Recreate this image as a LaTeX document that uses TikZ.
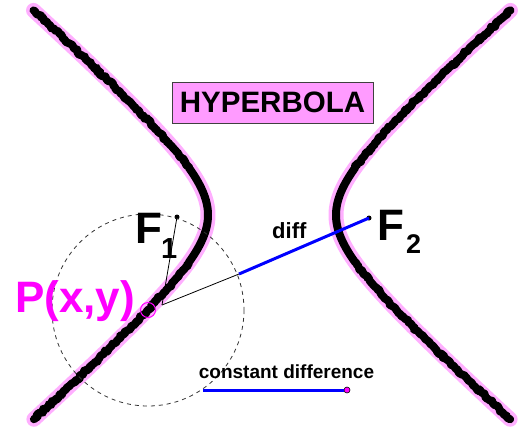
\documentclass[tikz,border=0pt]{standalone}
\usepackage{fontspec}
\setmainfont{Liberation Sans}
\usetikzlibrary{decorations.pathmorphing}
\definecolor{boxpink}{RGB}{255,155,255}
\definecolor{glow}{RGB}{255,175,255}
\definecolor{mag}{RGB}{255,0,255}
\definecolor{bl}{RGB}{0,0,255}
\tikzset{
  glowline/.style={glow,line width=15pt,line cap=round,line join=round},
  roughline/.style={black,line width=8pt,line cap=round,line join=round,
     decorate,decoration={random steps,segment length=2pt,amplitude=1.4pt}},
  focusdot/.style={circle,fill=black,inner sep=0pt,minimum size=5pt},
  thinline/.style={black,line width=0.8pt},
  blueseg/.style={bl,line width=3pt},
  lbl/.style={inner sep=0pt,font=\bfseries},
}
\pgfmathsetseed{7}
\begin{document}
\begin{tikzpicture}[x=1pt,y=-1pt]
\useasboundingbox (0,0) rectangle (524,429);
\clip (0,0) rectangle (524,429);
% hyperbola branches
\foreach \s in {-1,1}{
  \draw[glowline] plot[domain=-1.99:1.99,samples=120,variable=\t]
     ({272+\s*64*cosh(\t)},{215+57*sinh(\t)});
  \draw[roughline] plot[domain=-1.99:1.99,samples=120,variable=\t]
     ({272+\s*64*cosh(\t)},{215+57*sinh(\t)});
}
% title
\node[draw=black!75,fill=boxpink,line width=0.7pt,minimum width=201pt,minimum height=41pt,inner sep=0pt,
      font=\bfseries\fontsize{29.5}{31}\selectfont] (title) at (272.5,102.5) {HYPERBOLA};
% points
\coordinate (P) at (148,310);
\coordinate (Q) at (162,305);
\coordinate (C) at (239,274);
\node[focusdot] (F1) at (177,217) {};
\node[focusdot] (F2) at (369,218) {};
% dashed circle around P
\draw[black!80,line width=0.8pt,dash pattern=on 4pt off 4pt] (P) circle[radius=96];
\node[draw=mag,line width=1pt,circle,minimum size=15pt,inner sep=0pt] (Pc) at (P) {};
% connectors
\draw[thinline] (Q) -- (F1.center);
\draw[thinline] (Q) -- (C);
\draw[blueseg] (C) -- (F2.center);
% labels
\node[lbl,anchor=base west,font=\bfseries\fontsize{44}{46}\selectfont] (F1a) at (135,243) {F};
\node[lbl,anchor=base west,font=\bfseries\fontsize{29}{30}\selectfont] (F1b) at (161,258) {1};
\node[lbl,anchor=base west,font=\bfseries\fontsize{44}{46}\selectfont] (F2a) at (377,240) {F};
\node[lbl,anchor=base west,font=\bfseries\fontsize{27}{28}\selectfont] (F2b) at (406,253) {2};
\node[lbl,anchor=base west,text=mag,font=\bfseries\fontsize{44}{46}\selectfont] (Plab) at (15,312) {P(x,y)};
\node[lbl,anchor=base west,font=\bfseries\fontsize{22}{24}\selectfont] (diff) at (272,238) {diff};
% constant difference
\node[lbl,anchor=base,font=\bfseries\fontsize{19}{21}\selectfont] (cd) at (286.5,378) {constant difference};
\coordinate (s1) at (203,390);
\node[circle,fill=mag,draw=black,line width=0.6pt,minimum size=6pt,inner sep=0pt] (s2) at (347,390) {};
\draw[blueseg] (s1) -- (s2.west);
\end{tikzpicture}
\end{document}
